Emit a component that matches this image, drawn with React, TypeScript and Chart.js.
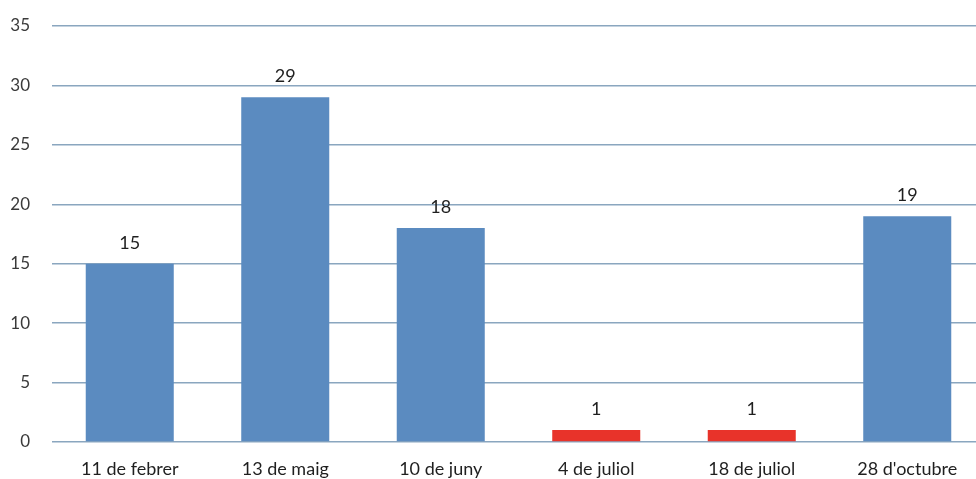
import React, { useEffect, useRef } from "react";
import { Chart, registerables } from "chart.js";

Chart.register(...registerables);

const categories = ["11 de febrer", "13 de maig", "10 de juny", "4 de juliol", "18 de juliol", "28 d'octubre"];
const values = [15, 29, 18, 1, 1, 19];
const barColors = ["#5b8bc0", "#5b8bc0", "#5b8bc0", "#e8332a", "#e8332a", "#5b8bc0"];
const yTicks = [0, 5, 10, 15, 20, 25, 30, 35];

const FONT = "Lato, 'Noto Sans', sans-serif";

const valueLabels = {
  id: "valueLabels",
  afterDatasetsDraw(chart: any) {
    const ctx = chart.ctx;
    const meta = chart.getDatasetMeta(0);
    ctx.save();
    ctx.font = `18px ${FONT}`;
    ctx.fillStyle = "#1f1f1f";
    ctx.textAlign = "center";
    ctx.textBaseline = "middle";
    meta.data.forEach((bar: any, i: number) => {
      ctx.fillText(String(values[i]), bar.x, bar.y - 21);
    });
    ctx.restore();
  },
};

export default function App() {
  const ref = useRef<HTMLCanvasElement>(null);
  useEffect(() => {
    document.body.style.overflow = "hidden";
    const chart = new Chart(ref.current!, {
      type: "bar",
      data: {
        labels: categories,
        datasets: [
          {
            data: values,
            backgroundColor: barColors,
            borderWidth: 0,
            categoryPercentage: 1,
            barPercentage: 0.566,
          },
        ],
      },
      options: {
        animation: false,
        responsive: false,
        maintainAspectRatio: false,
        layout: { padding: { top: 26, right: 1, left: 0, bottom: 0 } },
        plugins: { legend: { display: false }, title: { display: false }, tooltip: { enabled: false } },
        scales: {
          x: {
            grid: { display: false },
            border: { display: false },
            ticks: { color: "#1f1f1f", font: { family: FONT, size: 18 }, padding: 8, maxRotation: 0 },
            afterFit: (s: any) => { s.height = 37; s.paddingLeft = 0; s.paddingRight = 0; },
          },
          y: {
            min: 0,
            max: 35,
            afterBuildTicks: (s: any) => { s.ticks = yTicks.map((v) => ({ value: v })); },
            grid: { color: "#8aa6bf", lineWidth: 1.5, drawTicks: false },
            border: { display: false },
            ticks: { color: "#3a3a3a", font: { family: FONT, size: 17 }, padding: 22 },
            afterFit: (s: any) => { s.width = 52; s.paddingTop = 0; s.paddingBottom = 0; },
          },
        },
      },
      plugins: [valueLabels],
    });
    return () => chart.destroy();
  }, []);
  return (
    <div style={{ position: "absolute", left: 0, top: 0, width: 986, height: 479 }}>
      <canvas ref={ref} width={986} height={479} style={{ display: "block" }} />
    </div>
  );
}
